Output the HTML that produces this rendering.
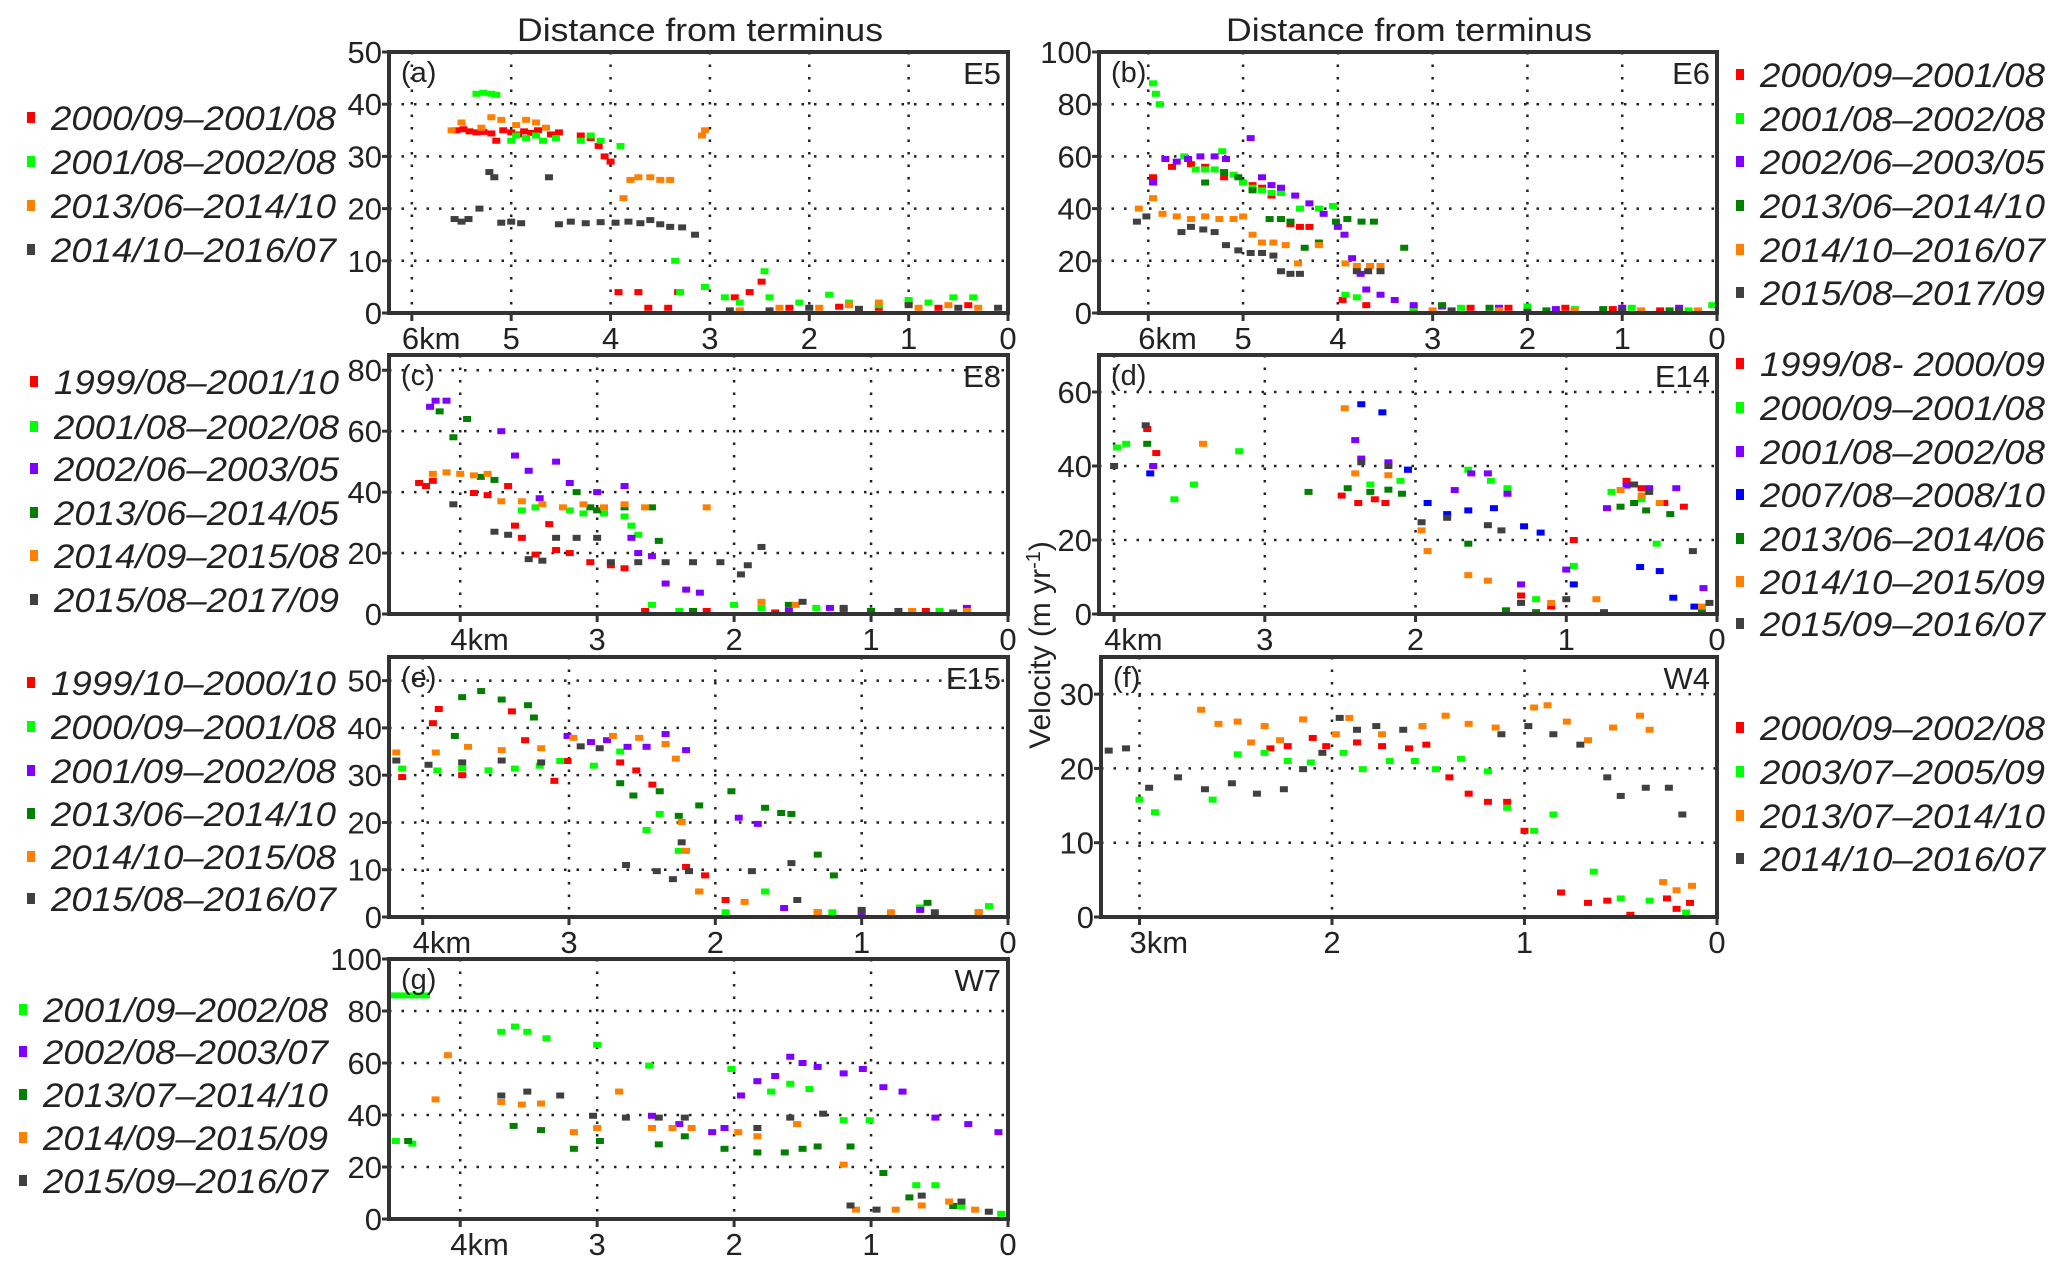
<!DOCTYPE html>
<html><head><meta charset="utf-8"><style>
html,body{margin:0;padding:0;background:#fff;}
svg{display:block;font-family:"Liberation Sans Narrow","Liberation Sans",sans-serif;}
</style></head><body>
<svg id="fig" width="2067" height="1270" viewBox="0 0 2067 1270" xmlns="http://www.w3.org/2000/svg">
<text x="700" y="41" font-size="32" text-anchor="middle" textLength="366" lengthAdjust="spacingAndGlyphs" fill="#222">Distance from terminus</text>
<text x="1409" y="41" font-size="32" text-anchor="middle" textLength="366" lengthAdjust="spacingAndGlyphs" fill="#222">Distance from terminus</text>
<text transform="translate(1050,645) rotate(-90)" font-size="30" text-anchor="middle" fill="#222">Velocity (m yr<tspan dy="-10" font-size="20">-1</tspan><tspan dy="10">)</tspan></text>
</svg>
<script>
// ---- data (distance km, velocity m/yr) ----
const a_red=[[5.55,35],[5.48,35.2],[5.42,34.8],[5.35,34.6],[5.28,34.7],[5.2,34.4],[5.15,33],[5.08,35],[5,34.6],[4.93,34.2],[4.87,34.8],[4.8,34.5],[4.73,35],[4.6,34.2],[4.52,34.6],[4.3,34],[4.2,33.5],[4.12,32],[4.06,30],[4.0,29],[3.92,4],[3.72,4],[3.62,1],[3.42,1],[3.32,4],[2.75,3],[2.6,4],[2.48,6],[2.2,1],[1.7,1.2],[1.3,1],[1.0,2],[0.7,1],[0.4,1.5]];
const a_green=[[5.35,42],[5.28,42.2],[5.2,42],[5.15,41.8],[5.0,33],[4.95,34],[4.85,33.5],[4.75,34],[4.68,33],[4.55,33.5],[4.3,33],[4.2,34],[4.1,33],[3.9,32],[3.35,10],[3.3,4],[3.05,5],[2.85,3],[2.7,2],[2.45,8],[2.4,3],[2.1,2],[1.8,3.5],[1.6,2],[1.3,1.5],[1.0,2.5],[0.8,2],[0.55,3],[0.35,3]];
const a_orange=[[5.6,35],[5.5,36.5],[5.3,35.5],[5.2,37.5],[5.1,37],[4.95,36],[4.85,37],[4.75,36.5],[4.65,35.5],[3.87,22],[3.8,25.5],[3.72,26],[3.6,26],[3.5,25.5],[3.4,25.5],[3.08,34],[3.05,35],[2.7,0.5],[2.3,1],[1.9,1],[1.6,1.5],[1.3,2],[0.9,1],[0.6,1.5],[0.3,1]];
const a_gray=[[5.57,18],[5.5,17.5],[5.43,18],[5.32,20],[5.22,27],[5.17,26],[5.1,17.3],[5.0,17.5],[4.9,17.2],[4.62,26],[4.52,17],[4.4,17.5],[4.25,17.2],[4.1,17.4],[3.95,17.3],[3.82,17.5],[3.7,17.2],[3.6,17.8],[3.5,17],[3.4,16.5],[3.28,16.4],[3.15,15],[2.8,0.5],[2.4,0.5],[2.0,1],[1.5,0.8],[1.0,1.5],[0.5,1],[0.1,1]];
const b_red=[[5.95,52],[5.75,56],[5.55,57],[5.4,56],[5.2,52],[5.0,50],[4.9,49],[4.8,48],[4.7,45],[4.5,34],[4.4,33],[4.3,33],[3.95,5],[3.7,3],[3.2,1],[2.6,2],[2.2,2],[1.6,2],[1.1,1.5],[0.6,1]];
const b_green=[[5.95,88],[5.92,84],[5.88,80],[5.62,60],[5.5,55],[5.4,55],[5.3,55],[5.22,62],[5.1,53],[5.0,50],[4.9,48],[4.8,47],[4.7,46],[4.6,46],[4.4,40],[4.2,40],[4.05,41],[3.92,7],[3.8,6],[3.2,2],[2.7,2],[2.0,2.5],[1.5,1.5],[0.9,2],[0.3,1],[0.05,3]];
const b_purple=[[5.95,50],[5.82,59],[5.7,58],[5.58,59],[5.45,60],[5.3,60],[5.18,59],[4.92,67],[4.8,52],[4.7,49],[4.6,48],[4.45,45],[4.3,42],[4.15,38],[4.0,33],[3.93,30],[3.85,21],[3.76,15],[3.7,9],[3.55,7],[3.4,5],[3.2,3],[2.9,2.5],[2.3,2],[1.7,1.5],[1.0,2],[0.4,2]];
const b_dgreen=[[5.4,50],[5.2,54],[5.05,52],[4.9,47],[4.72,36],[4.6,36],[4.5,35],[4.35,25],[4.2,27],[4.02,35],[3.9,36],[3.75,35],[3.62,35],[3.3,25],[2.9,3],[2.4,2],[1.8,1],[1.2,1.5],[0.5,1]];
const b_orange=[[6.1,40],[5.95,44],[5.85,38],[5.7,37],[5.55,36],[5.4,37],[5.25,36],[5.1,36],[5.0,37],[4.9,30],[4.8,27],[4.68,27],[4.55,26],[4.42,19],[4.2,26],[3.92,19],[3.8,18],[3.66,18],[3.55,18],[3.0,1],[2.3,1],[1.5,1],[0.8,1],[0.2,1]];
const b_gray=[[6.12,35],[6.02,37],[5.65,31],[5.55,33],[5.42,32],[5.3,31],[5.18,26],[5.05,24],[4.92,23],[4.8,23],[4.68,22],[4.6,16],[4.5,15],[4.4,15],[3.8,16],[3.68,16],[3.55,16],[2.8,1],[2.0,0.5],[1.0,1],[0.4,1]];
const c_red=[[4.3,43],[4.25,42],[4.2,43.7],[3.9,39.7],[3.8,39],[3.65,42],[3.6,29],[3.55,25],[3.45,19.5],[3.35,29.5],[3.3,21],[3.2,20],[3.05,17],[2.9,16],[2.8,15],[2.65,1],[2.2,1],[1.7,0.5],[1.2,1],[0.6,1]];
const c_green=[[3.55,34],[3.45,35],[3.2,34],[3.1,33],[2.95,33],[2.8,32],[2.75,29],[2.7,26],[2.6,3],[2.4,1],[2.0,3],[1.8,2],[1.4,2],[1.0,1],[0.5,1]];
const c_purple=[[4.22,68],[4.18,70],[4.1,70],[3.7,60],[3.6,52],[3.5,47],[3.42,38],[3.3,50],[3.2,43],[3.0,40],[2.8,42],[2.75,25],[2.7,20],[2.6,19],[2.5,10],[2.35,8],[2.25,7],[1.6,1],[1.3,2],[1.0,1],[0.3,2]];
const c_dgreen=[[4.15,66.5],[4.05,58],[3.95,64],[3.85,45],[3.75,44],[3.15,40],[3.05,35],[3.0,34],[2.8,35],[2.6,35],[2.55,24],[2.3,1],[1.6,3],[1.0,1]];
const c_orange=[[4.2,46],[4.1,46.5],[4.0,46],[3.9,45.5],[3.8,46],[3.7,37],[3.55,37],[3.4,36],[3.25,35],[3.1,36],[2.95,35],[2.8,36],[2.65,35],[2.2,35],[1.8,4],[1.55,3],[1.2,2],[0.7,1],[0.3,1]];
const c_gray=[[4.05,36],[3.75,27],[3.65,26],[3.5,18],[3.4,17.5],[3.3,25],[3.15,25],[3.0,25],[2.9,17],[2.7,17],[2.5,17],[2.3,17],[2.1,17],[1.95,13],[1.9,16],[1.8,22],[1.5,4],[1.2,2],[0.8,1],[0.4,0.5]];
const d_red=[[3.78,50],[3.72,43.5],[2.49,32],[2.38,30],[2.27,31],[2.2,30],[0.95,20],[1.3,5],[1.1,2],[0.6,36],[0.5,34],[0.35,30],[0.22,29]];
const d_green=[[3.98,45],[3.92,46],[3.6,31],[3.47,35],[3.17,44],[2.3,35],[2.1,36],[1.65,39],[1.5,36],[1.39,34],[1.2,4],[0.95,13],[0.4,19],[0.7,33],[0.5,31]];
const d_purple=[[3.74,40],[2.4,47],[2.36,42],[2.18,41],[2.05,39],[1.74,33.5],[1.63,38],[1.52,38],[1.39,32.5],[1.3,8],[1.0,12],[0.73,28.6],[0.6,34.7],[0.45,34],[0.27,34],[0.09,7]];
const d_blue=[[3.76,38],[2.36,56.7],[2.22,54.5],[2.05,39],[1.92,30],[1.79,27],[1.65,28],[1.48,28.6],[1.28,23.7],[1.17,22],[0.95,8],[0.51,12.7],[0.38,11.6],[0.29,4.4],[0.15,2]];
const d_dgreen=[[3.78,46],[2.71,33],[2.45,34],[2.3,33],[2.18,33.6],[2.09,32.5],[1.65,19],[1.4,1],[1.2,0.5],[0.64,29],[0.55,30],[0.47,28],[0.31,27],[0.1,1]];
const d_orange=[[3.41,46],[2.47,55.6],[2.4,38],[2.18,37.5],[1.96,22.6],[1.92,17],[1.65,10.5],[1.52,9],[1.1,3],[0.8,4],[0.64,33.5],[0.5,32],[0.38,30],[0.1,2]];
const d_gray=[[4.0,40],[3.79,51],[2.36,41],[2.18,40],[1.96,24.8],[1.79,26],[1.52,24],[1.43,22.6],[1.3,3],[1.0,4],[0.75,0.5],[0.55,35],[0.45,33],[0.16,17],[0.05,3]];
const e_red=[[3.93,41],[3.89,44],[3.39,43.5],[3.3,37.4],[4.14,29.6],[3.73,30],[3.55,31],[3.1,28.8],[3.01,33],[2.65,32.7],[2.54,31],[2.43,28],[2.2,10.6],[2.07,8.8],[1.93,3.6],[1.3,1],[0.6,2]];
const e_green=[[4.14,31.4],[3.9,31],[3.73,31.4],[3.55,31],[3.37,31.4],[3.2,32],[3.06,33],[2.83,32],[2.65,35],[2.47,18.4],[2.38,21.8],[2.25,14],[2.11,5.4],[1.93,1],[1.66,5.4],[1.2,1],[0.6,2],[0.13,2.3]];
const e_purple=[[3.01,38.3],[2.85,37],[2.74,37.4],[2.6,36],[2.47,36],[2.34,38.7],[2.2,35.3],[1.84,21],[1.71,19.7],[1.53,1.9],[1.0,1],[0.6,1.5]];
const e_dgreen=[[3.73,46.5],[3.6,47.8],[3.46,46],[3.28,44.8],[3.24,42.2],[3.78,38.3],[2.65,28.3],[2.56,25.7],[2.38,26.6],[2.25,21.4],[2.11,23.6],[1.89,26.6],[1.66,23.1],[1.55,22],[1.48,21.8],[1.3,13.2],[1.19,8.8],[0.55,3],[0.2,1]];
const e_orange=[[4.18,34.8],[3.91,34.8],[3.69,36],[3.46,35.3],[3.19,35.7],[2.97,37.9],[2.7,38.3],[2.52,37.9],[2.34,36.6],[2.27,33.5],[2.23,20.1],[2.2,14],[2.11,5.4],[1.8,3.2],[1.3,1],[0.8,1],[0.2,1]];
const e_gray=[[4.18,33.1],[3.96,32.2],[3.73,32.7],[3.46,33.1],[3.19,32.7],[2.92,36.1],[2.79,35.7],[2.61,11],[2.4,9.7],[2.29,8],[2.23,15.8],[2.18,9.7],[1.75,9.7],[1.48,11.4],[1.44,3.6],[1.0,1.5],[0.5,1]];
const f_gray=[[3.16,22.4],[3.07,22.7],[2.95,17.4],[2.8,18.8],[2.66,17.2],[2.52,18],[2.39,16.6],[2.25,17.2],[2.15,19.9],[2.05,22.1],[1.96,26.8],[1.87,25.2],[1.77,25.7],[1.63,25.2],[1.12,24.6],[0.98,25.7],[0.85,24.6],[0.71,23.2],[0.57,18.8],[0.5,16.3],[0.37,17.4],[0.25,17.4],[0.18,13.8]];
const f_orange=[[2.68,27.9],[2.59,26],[2.49,26.3],[2.42,23.5],[2.35,25.7],[2.27,23.8],[2.15,26.6],[1.98,24.6],[1.91,26.8],[1.74,24.6],[1.53,25.7],[1.41,27.1],[1.29,26],[1.15,25.5],[0.95,28.2],[0.88,28.5],[0.78,26.3],[0.67,23.8],[0.54,25.5],[0.4,27.1],[0.35,25.2],[0.28,4.7],[0.21,3.6],[0.13,4.2]];
const f_red=[[2.32,22.7],[2.23,23],[2.1,24.1],[2.03,23],[1.87,23.5],[1.74,23],[1.6,22.7],[1.51,23.2],[1.39,18.8],[1.29,16.6],[1.19,15.5],[1.09,15.5],[1.0,11.6],[0.81,3.3],[0.67,1.9],[0.57,2.2],[0.45,0.3],[0.26,2.5],[0.21,1.1],[0.14,1.9]];
const f_green=[[3.0,15.8],[2.92,14.1],[2.62,15.8],[2.49,21.9],[2.35,22.1],[2.23,21],[2.11,20.8],[1.94,22.1],[1.84,19.9],[1.7,21],[1.57,21],[1.46,19.9],[1.33,21.3],[1.19,19.6],[1.09,14.7],[0.95,11.6],[0.85,13.8],[0.64,6.1],[0.5,2.5],[0.35,2.2],[0.16,0.6]];
const g_green=[[4.5,86],[4.45,86],[4.4,86],[4.35,86],[4.3,86],[4.25,86],[4.47,30],[4.35,29],[3.7,72],[3.6,74],[3.51,72],[3.37,69.5],[3.0,67],[2.62,59],[2.02,57.7],[1.73,49],[1.59,52],[1.45,50],[1.2,38],[1.01,38],[0.67,13],[0.53,13],[0.34,5],[0.05,2]];
const g_purple=[[2.6,39.7],[2.4,36.5],[2.16,33.4],[2.07,35],[1.95,47.5],[1.83,53],[1.7,55],[1.59,62.4],[1.5,60],[1.39,58.5],[1.2,56],[1.06,57.7],[0.91,50.7],[0.77,49],[0.53,39],[0.29,36.5],[0.07,33.4]];
const g_dgreen=[[4.38,30],[3.61,35.8],[3.41,34.2],[3.17,27],[2.98,30],[2.55,28.7],[2.36,31.8],[2.07,27],[1.83,25.6],[1.63,25.6],[1.5,27],[1.39,27.9],[1.15,27.9],[0.91,17.7],[0.72,8.3],[0.4,5]];
const g_orange=[[4.18,46],[4.09,63],[3.7,45],[3.55,44],[3.41,44.4],[3.17,33.4],[3.0,35],[2.84,49],[2.6,35],[2.45,35],[2.31,35],[1.97,33.4],[1.83,31.8],[1.54,36.5],[1.2,20.9],[1.11,3.6],[0.82,3.6],[0.63,5.2],[0.43,6.7],[0.24,3.6]];
const g_gray=[[3.7,47.5],[3.51,49],[3.27,47.5],[3.03,39.7],[2.79,39],[2.55,39],[2.36,39],[1.83,35],[1.59,39],[1.35,40.5],[1.15,5.2],[0.96,3.6],[0.63,9],[0.34,6.7],[0.14,2.8]];

const C={red:'#ff0000',green:'#00ff00',purple:'#7f00ff',dgreen:'#007f00',orange:'#ff7f00',gray:'#404040',blue:'#0000ff'};

const panels=[
 {id:'a',site:'E5',L:389,R:1008,T:52,B:313,xmax:6.23,ymax:50,yt:[0,10,20,30,40,50],xt:[6,5,4,3,2,1,0],
  series:[['red',a_red,'2000/09\u20132001/08'],['green',a_green,'2001/08\u20132002/08'],['orange',a_orange,'2013/06\u20132014/10'],['gray',a_gray,'2014/10\u20132016/07']],
  legX:31,legY:[118,162,206,250]},
 {id:'b',site:'E6',L:1099,R:1717,T:52,B:313,xmax:6.52,ymax:100,yt:[0,20,40,60,80,100],xt:[6,5,4,3,2,1,0],
  series:[['red',b_red,'2000/09\u20132001/08'],['green',b_green,'2001/08\u20132002/08'],['purple',b_purple,'2002/06\u20132003/05'],['dgreen',b_dgreen,'2013/06\u20132014/10'],['orange',b_orange,'2014/10\u20132016/07'],['gray',b_gray,'2015/08\u20132017/09']],
  legX:1740,legY:[75,119,162,206,250,293]},
 {id:'c',site:'E8',L:389,R:1008,T:355,B:614,xmax:4.52,ymax:85,yt:[0,20,40,60,80],xt:[4,3,2,1,0],
  series:[['red',c_red,'1999/08\u20132001/10'],['green',c_green,'2001/08\u20132002/08'],['purple',c_purple,'2002/06\u20132003/05'],['dgreen',c_dgreen,'2013/06\u20132014/05'],['orange',c_orange,'2014/09\u20132015/08'],['gray',c_gray,'2015/08\u20132017/09']],
  legX:34,legY:[382,427,469,513,556,600]},
 {id:'d',site:'E14',L:1099,R:1717,T:355,B:614,xmax:4.1,ymax:70,yt:[0,20,40,60],xt:[4,3,2,1,0],
  series:[['red',d_red,'1999/08- 2000/09'],['green',d_green,'2000/09\u20132001/08'],['purple',d_purple,'2001/08\u20132002/08'],['blue',d_blue,'2007/08\u20132008/10'],['dgreen',d_dgreen,'2013/06\u20132014/06'],['orange',d_orange,'2014/10\u20132015/09'],['gray',d_gray,'2015/09\u20132016/07']],
  legX:1740,legY:[364,408,452,495,539,582,624]},
 {id:'e',site:'E15',L:389,R:1008,T:657,B:917,xmax:4.23,ymax:55,yt:[0,10,20,30,40,50],xt:[4,3,2,1,0],
  series:[['red',e_red,'1999/10\u20132000/10'],['green',e_green,'2000/09\u20132001/08'],['purple',e_purple,'2001/09\u20132002/08'],['dgreen',e_dgreen,'2013/06\u20132014/10'],['orange',e_orange,'2014/10\u20132015/08'],['gray',e_gray,'2015/08\u20132016/07']],
  legX:31,legY:[683,727,771,814,857,899]},
 {id:'f',site:'W4',L:1101,R:1717,T:657,B:917,xmax:3.2,ymax:35,yt:[0,10,20,30],xt:[3,2,1,0],
  series:[['red',f_red,'2000/09\u20132002/08'],['green',f_green,'2003/07\u20132005/09'],['orange',f_orange,'2013/07\u20132014/10'],['gray',f_gray,'2014/10\u20132016/07']],
  legX:1740,legY:[728,772,816,859]},
 {id:'g',site:'W7',L:389,R:1008,T:959,B:1219,xmax:4.52,ymax:100,yt:[0,20,40,60,80,100],xt:[4,3,2,1,0],
  series:[['green',g_green,'2001/09\u20132002/08'],['purple',g_purple,'2002/08\u20132003/07'],['dgreen',g_dgreen,'2013/07\u20132014/10'],['orange',g_orange,'2014/09\u20132015/09'],['gray',g_gray,'2015/09\u20132016/07']],
  legX:23,legY:[1010,1052,1095,1138,1181]}
];

const NS='http://www.w3.org/2000/svg';
const svg=document.getElementById('fig');
function mk(tag,attrs,parent){const e=document.createElementNS(NS,tag);for(const k in attrs)e.setAttribute(k,attrs[k]);(parent||svg).appendChild(e);return e;}

panels.forEach(p=>{
  const xs=v=>p.R-(v/p.xmax)*(p.R-p.L);
  const ys=v=>p.B-(v/p.ymax)*(p.B-p.T);
  const g=mk('g',{});
  
  
  p.xt.forEach(t=>{if(t===0)return;const x=xs(t);
    const l=mk('line',{x1:x,x2:x,y1:p.T,y2:p.B,stroke:'#222','stroke-width':2.5,'stroke-dasharray':'2.5 10'},g);
    
    });
  p.yt.forEach(t=>{if(t===0||t>=p.ymax)return;const y=ys(t);
    const l=mk('line',{x1:p.L,x2:p.R,y1:y,y2:y,stroke:'#222','stroke-width':2.5,'stroke-dasharray':'2.5 10'},g);
    
    });
  p.series.forEach(s=>{
    const sg=mk('g',{fill:C[s[0]]},g);
    
    
    s[1].forEach(d=>{
      const r=mk('rect',{x:xs(d[0])-4,y:ys(d[1])-3,width:8,height:6},sg);
      
      
    });
  });
  const fr=mk('rect',{x:p.L,y:p.T,width:p.R-p.L,height:p.B-p.T,fill:'none',stroke:'#333','stroke-width':4},g);
  
  
  p.xt.forEach((t,i)=>{const x=xs(t);
    mk('line',{x1:x,x2:x,y1:p.B,y2:p.B+8,stroke:'#333','stroke-width':3},g);
    const lab=mk('text',{x:i===0?x-10:x,y:p.B+36,'font-size':31,'text-anchor':i===0?'start':'middle',fill:'#222'},g);
    lab.textContent=i===0?t+'km':String(t);
    
    
  });
  p.yt.forEach(t=>{const y=ys(t);
    mk('line',{x1:p.L-7,x2:p.L,y1:y,y2:y,stroke:'#333','stroke-width':3},g);
    const lab=mk('text',{x:p.L-7,y:y+11,'font-size':31,'text-anchor':'end',fill:'#222'},g);
    lab.textContent=String(t);
    
    
  });
  const pl=mk('text',{x:p.L+12,y:p.T+30,'font-size':29,fill:'#222'},g);
  pl.textContent='('+p.id+')';
  
  
  const st=mk('text',{x:p.R-7,y:p.T+32,'font-size':31,'text-anchor':'end',fill:'#222'},g);
  st.textContent=p.site;
  
  
  p.series.forEach((s,i)=>{
    const y=p.legY[i];
    const le=mk('g',{},svg);
    
    
    mk('rect',{x:p.legX-4,y:y-6,width:8,height:11,fill:C[s[0]]},le);
    const t=mk('text',{x:p.legX+20,y:y+12,'font-size':34,'font-style':'italic',fill:'#222',textLength:285,lengthAdjust:'spacingAndGlyphs'},le);
    t.textContent=s[2];
  });
});
</script>
</body></html>
